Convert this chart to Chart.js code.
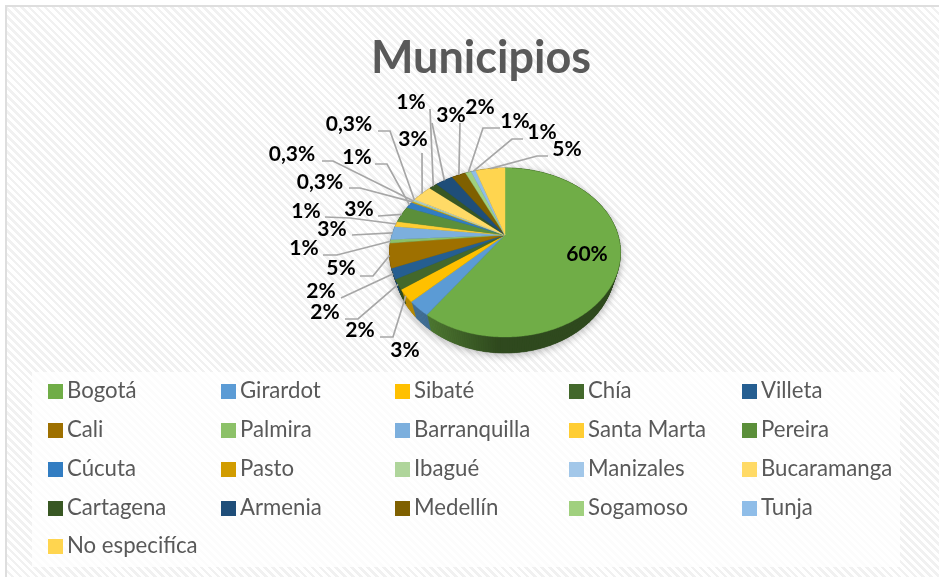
<!DOCTYPE html>
<html lang="es">
<head>
<meta charset="utf-8">
<title>Municipios</title>
<script src="https://cdn.jsdelivr.net/npm/chart.js@4"></script>
<style>
html,body{margin:0;padding:0;background:#fff}
#page{position:relative;width:941px;height:577px;overflow:hidden;background:#fff}
#frame{position:absolute;left:5px;top:5px;right:2px;bottom:0;box-sizing:border-box;border:solid #dedede;border-width:2px 0 0 2px;
background:repeating-linear-gradient(45deg,#ffffff 0,#ffffff 3px,#f1f1f1 3px,#f1f1f1 5.6px)}
#chart{position:absolute;left:0;top:0}
#legendBox{position:absolute;left:32px;top:372px;width:868px;height:195px;background:rgba(255,255,255,.78)}
.item{position:absolute;height:24px;line-height:24px;font:22.2px Lato,sans-serif;color:#595959;white-space:nowrap}
.swatch{position:absolute;width:15px;height:15px;left:0;top:5px}
.name{position:absolute;left:19px;top:-3px}
</style>
</head>
<body>
<div id="page">
  <div id="frame"></div>
  <div id="legendBox"></div>
  <canvas id="chart" width="941" height="577"></canvas>
  <div id="legend"></div>
</div>
<script>
const chartTitle = 'Municipios';
const municipios = ['Bogotá','Girardot','Sibaté','Chía','Villeta','Cali','Palmira','Barranquilla','Santa Marta','Pereira','Cúcuta','Pasto','Ibagué','Manizales','Bucaramanga','Cartagena','Armenia','Medellín','Sogamoso','Tunja','No especifíca'];
const porcentajes = [59.7,2.8,2.4,1.9,2.0,4.6,0.7,2.6,1.0,3.2,1.3,0.25,0.25,0.25,3.4,1.4,3.0,2.4,1.0,0.8,5.0];
const etiquetas = ['60%','3%','2%','2%','2%','5%','1%','3%','1%','3%','1%','0,3%','0,3%','0,3%','3%','1%','3%','2%','1%','1%','5%'];
const colores = ['#70ad47','#5b9bd5','#ffc000','#43682b','#255e91','#9e7000','#8cc168','#7cafdd','#ffcd33','#5b8f3a','#327dc2','#d19c00','#afd59b','#a2c7e9','#ffda66','#385723','#1f4e79','#7f6000','#a0d07e','#8fbde8','#ffd54f'];

// Label placement (page pixels), kept apart from the values
const labelSpots = [[587,254],[405,350],[360,330],[325,312],[321,291],[341,268],[304,248],[332,229],[306,211],[359,209],[357,157],[320,182],[292,154],[349,124],[413,139],[411,102],[451,115],[480,107],[515,121],[542,132],[567,149]];
const leaderPaths = [[],[],[[380,337],[393,337]],[[345,319],[358,319]],[[341,298]],[[360,276],[373,276]],[[323,255],[337,255]],[[352,235]],[[325,217],[350,218]],[[378,216]],[[375,164],[387,164]],[[349,188],[360,188]],[[322,161],[333,161]],[[378,131],[390,131]],[[422,153]],[[430,109]],[[432,123]],[[460,123]],[[500,128],[483,128]],[[523,139],[512,139]],[[548,156],[537,156]]];
const legendCols = [48,221,395,569,742];
const legendRows = [384,423,462,501,539];

// Perspective of the tilted pie
const TILT = 0.207, HEIGHT_RATIO = 0.716, DEPTH = 16, RIM_SCALE = 0.955;
function project(arc, a, rim) {
  const th = a + Math.PI / 2, X = Math.sin(th), Y = Math.cos(th), w = 1 + TILT * Y;
  const x = arc.outerRadius * X / w;
  const y = arc.y - arc.outerRadius * HEIGHT_RATIO * Y / w;
  return rim ? [arc.x + x * RIM_SCALE, y + DEPTH * (1 - TILT) / w] : [arc.x + x, y];
}
function shade(hex, f) {
  const n = parseInt(hex.slice(1), 16);
  return 'rgb(' + [n >> 16 & 255, n >> 8 & 255, n & 255].map(v => Math.round(v * f)).join(',') + ')';
}

const pie3d = {
  id: 'pie3d',
  beforeDatasetsDraw(chart) {
    const ctx = chart.ctx, arcs = chart.getDatasetMeta(0).data, step = Math.PI / 180;
    ctx.save();
    // soft shadow under the pie
    const a0 = arcs[0];
    ctx.shadowColor = 'rgba(0,0,0,.3)'; ctx.shadowBlur = 9; ctx.shadowOffsetY = 2;
    ctx.fillStyle = '#2f4a1e';
    ctx.beginPath();
    for (let a = 0; a < Math.PI * 2; a += step) { const p = project(a0, a, false); ctx.lineTo(p[0], p[1]); }
    ctx.closePath(); ctx.fill();
    ctx.beginPath();
    for (let a = 0; a < Math.PI * 2; a += step) { const p = project(a0, a, true); ctx.lineTo(p[0], p[1]); }
    ctx.closePath(); ctx.fill();
    ctx.shadowColor = 'transparent'; ctx.shadowBlur = 0; ctx.shadowOffsetY = 0;
    // side wall
    arcs.forEach((arc, i) => {
      for (let a = arc.startAngle; a < arc.endAngle; a += step) {
        const b = Math.min(a + step, arc.endAngle);
        const p = project(arc, a), q = project(arc, b), r = project(arc, b, true), s = project(arc, a, true);
        const t = Math.max(0, Math.min(1, (p[0] - 420) / 80));
        const c = shade(colores[i], 0.72 - 0.3 * t);
        ctx.fillStyle = c; ctx.strokeStyle = c; ctx.lineWidth = 0.6;
        ctx.beginPath(); ctx.moveTo(p[0], p[1]); ctx.lineTo(q[0], q[1]); ctx.lineTo(r[0], r[1]); ctx.lineTo(s[0], s[1]); ctx.closePath();
        ctx.fill(); ctx.stroke();
      }
    });
    // top face
    arcs.forEach((arc, i) => {
      ctx.fillStyle = colores[i]; ctx.strokeStyle = colores[i]; ctx.lineWidth = 0.4;
      ctx.beginPath(); ctx.moveTo(arc.x, arc.y);
      for (let a = arc.startAngle; a < arc.endAngle; a += step / 2) { const p = project(arc, a); ctx.lineTo(p[0], p[1]); }
      const e = project(arc, arc.endAngle); ctx.lineTo(e[0], e[1]);
      ctx.closePath(); ctx.fill(); ctx.stroke();
    });
    ctx.restore();
    return false;
  },
  afterDraw(chart) {
    const ctx = chart.ctx, arcs = chart.getDatasetMeta(0).data;
    ctx.save();
    ctx.textAlign = 'center'; ctx.textBaseline = 'middle';
    ctx.fillStyle = '#595959'; ctx.font = 'bold 45px Lato, sans-serif';
    ctx.fillText(chartTitle, 481, 58);
    ctx.strokeStyle = '#a6a6a6'; ctx.lineWidth = 1.7;
    arcs.forEach((arc, i) => {
      const path = leaderPaths[i];
      if (path.length) {
        const m = project(arc, (arc.startAngle + arc.endAngle) / 2);
        ctx.beginPath(); ctx.moveTo(path[0][0], path[0][1]);
        path.slice(1).forEach(p => ctx.lineTo(p[0], p[1]));
        ctx.lineTo(m[0], m[1]); ctx.stroke();
      }
    });
    ctx.fillStyle = '#000'; ctx.font = 'bold 21px Lato, sans-serif';
    etiquetas.forEach((t, i) => ctx.fillText(t, labelSpots[i][0], labelSpots[i][1]));
    ctx.restore();
  }
};

new Chart(document.getElementById('chart'), {
  type: 'pie',
  data: { labels: municipios, datasets: [{ data: porcentajes, backgroundColor: colores, borderWidth: 0 }] },
  options: {
    responsive: false, animation: false,
    layout: { padding: { left: 392, right: 323, top: 122, bottom: 229 } },
    plugins: { legend: { display: false }, tooltip: { enabled: false }, title: { display: false } }
  },
  plugins: [pie3d]
});

const legend = document.getElementById('legend');
municipios.forEach((name, i) => {
  const item = document.createElement('div');
  item.className = 'item';
  item.style.left = legendCols[i % 5] + 'px';
  item.style.top = (legendRows[Math.floor(i / 5)] - 5) + 'px';
  const sw = document.createElement('span'); sw.className = 'swatch'; sw.style.background = colores[i];
  const tx = document.createElement('span'); tx.className = 'name'; tx.textContent = name;
  item.append(sw, tx); legend.appendChild(item);
});
</script>
</body>
</html>
